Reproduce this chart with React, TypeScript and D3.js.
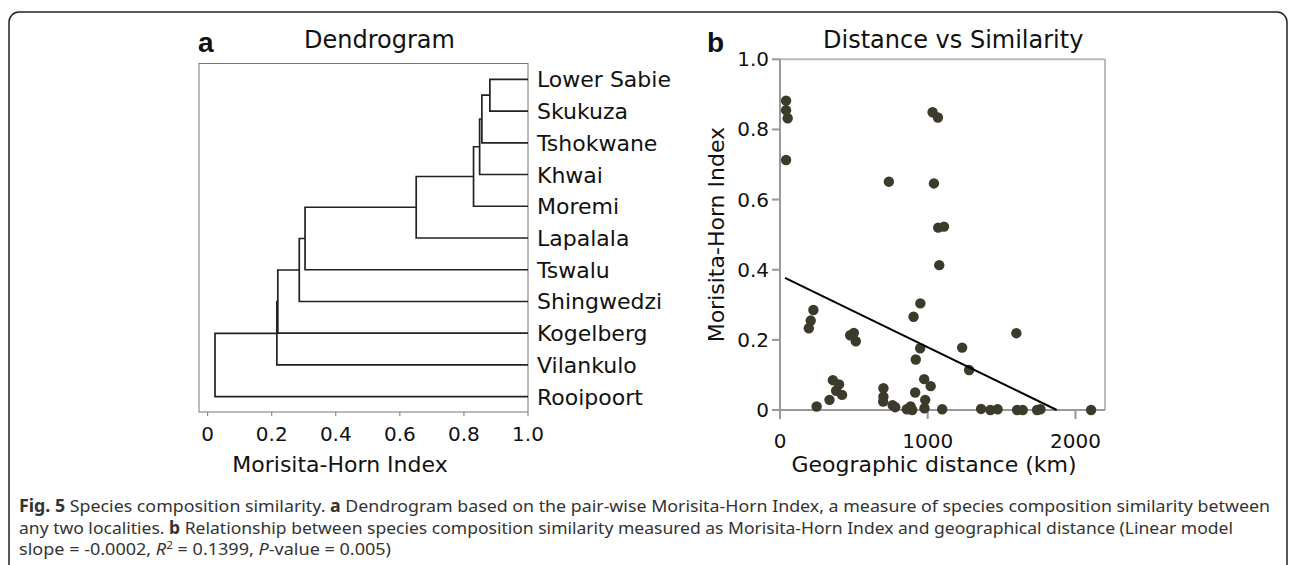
import React from "react";
import * as d3 from "d3";

// ---------- Panel a: dendrogram data ----------
const leaves = ["Lower Sabie", "Skukuza", "Tshokwane", "Khwai", "Moremi", "Lapalala", "Tswalu", "Shingwedzi", "Kogelberg", "Vilankulo", "Rooipoort"];
// merges: node ids (0..10 leaves, 11+ clusters in merge order)
const mergeLeft = [0, 11, 12, 13, 14, 15, 16, 17, 18, 19];
const mergeRight = [1, 2, 3, 4, 5, 6, 7, 8, 9, 10];
const mergeSimilarity = [0.881, 0.856, 0.849, 0.83, 0.651, 0.304, 0.286, 0.219, 0.216, 0.023];
const dendroTicks = [0, 0.2, 0.4, 0.6, 0.8, 1.0];

// ---------- Panel b: scatter data ----------
const distanceKm = [41, 41, 52, 41, 737, 1033, 1069, 1042, 1071, 1110, 1078, 226, 208, 195, 248, 335, 358, 400, 380, 420, 475, 500, 513, 700, 700, 698, 762, 780, 858, 884, 895, 904, 950, 949, 919, 915, 976, 1020, 983, 978, 1098, 1233, 1280, 1361, 1424, 1473, 1600, 1605, 1643, 1740, 1763, 2106];
const morisitaHorn = [0.882, 0.855, 0.832, 0.713, 0.651, 0.849, 0.834, 0.646, 0.52, 0.523, 0.413, 0.285, 0.255, 0.233, 0.01, 0.029, 0.085, 0.073, 0.055, 0.043, 0.213, 0.22, 0.196, 0.062, 0.038, 0.024, 0.014, 0.008, 0.002, 0.01, 0.0, 0.266, 0.304, 0.176, 0.144, 0.05, 0.088, 0.068, 0.029, 0.005, 0.002, 0.178, 0.114, 0.003, 0.0, 0.002, 0.219, 0.0, 0.0, 0.0, 0.002, 0.0];
const regIntercept = 0.384;
const regSlope = -0.000205;
const regRange = [34, 1873];
const scatterXTicks = [0, 1000, 2000];
const scatterYTicks = [0, 0.2, 0.4, 0.6, 0.8, 1.0];

// ---------- Caption ----------
type Part = { t: string; b?: boolean; i?: boolean; sup?: boolean };
const captionLines: Part[][] = [
  [
    { t: "Fig. 5", b: true },
    { t: " Species composition similarity. " },
    { t: "a", b: true },
    { t: " Dendrogram based on the pair-wise Morisita-Horn Index, a measure of species composition similarity between" },
  ],
  [
    { t: "any two localities. " },
    { t: "b", b: true },
    { t: " Relationship between species composition similarity measured as Morisita-Horn Index and geographical distance (Linear model" },
  ],
  [
    { t: "slope = -0.0002, " },
    { t: "R", i: true },
    { t: "2", sup: true },
    { t: " = 0.1399, " },
    { t: "P", i: true },
    { t: "-value = 0.005)" },
  ],
];
const captionWidths = [1251, 1214, 372];

const FONT = "DejaVu Sans, Verdana, sans-serif";
const fmt = (d: number) => (d === 0 ? "0" : d3.format(".1f")(d));

export default function App() {
  // dendrogram scales
  const dx = d3.scaleLinear().domain([-0.027, 1]).range([199, 528]);
  const dy = d3.scalePoint<string>().domain(leaves).range([79.3, 396.7]);
  const boxTop = 63.5;
  const boxBottom = 412;

  const nodes: { x: number; y: number }[] = leaves.map((l) => ({ x: 1, y: dy(l) as number }));
  const links: string[] = [];
  mergeLeft.forEach((l, k) => {
    const r = mergeRight[k];
    const a = nodes[l];
    const b = nodes[r];
    const s = mergeSimilarity[k];
    const p = d3.path();
    p.moveTo(dx(a.x), a.y);
    p.lineTo(dx(s), a.y);
    p.lineTo(dx(s), b.y);
    p.lineTo(dx(b.x), b.y);
    links.push(p.toString());
    nodes.push({ x: s, y: (a.y + b.y) / 2 });
  });

  // scatter scales
  const sx = d3.scaleLinear().domain([0, 2200]).range([780, 1105]);
  const sy = d3.scaleLinear().domain([0, 1]).range([410, 59.3]);
  const regLine = d3
    .line<number>()
    .x((d) => sx(d))
    .y((d) => sy(regIntercept + regSlope * d))(regRange);

  return (
    <svg width={1290} height={565} style={{ position: "absolute", left: 0, top: 0, background: "#fff" }}>
      {/* outer frame */}
      <rect x={9} y={12} width={1278} height={600} rx={10} fill="none" stroke="#222" strokeWidth={1.5} />

      {/* ---------- Panel a ---------- */}
      <text x={198} y={52} fontFamily="Liberation Sans, Arial, sans-serif" fontWeight="bold" fontSize={28} fill="#111">a</text>
      <text x={304} y={47.5} fontFamily={FONT} fontSize={24} fill="#111">Dendrogram</text>
      <rect x={dx(-0.027)} y={boxTop} width={dx(1) - dx(-0.027)} height={boxBottom - boxTop} fill="none" stroke="#777" strokeWidth={1} />
      {links.map((d, i) => (
        <path key={i} d={d} fill="none" stroke="#222" strokeWidth={1.7} />
      ))}
      {leaves.map((l) => (
        <text key={l} x={537} y={(dy(l) as number) + 8} fontFamily={FONT} fontSize={22} fill="#111">{l}</text>
      ))}
      {dendroTicks.map((t) => (
        <g key={t}>
          <line x1={dx(t)} x2={dx(t)} y1={boxBottom} y2={boxBottom + 4} stroke="#777" strokeWidth={1} />
          <text x={dx(t)} y={441} textAnchor="middle" fontFamily={FONT} fontSize={20} fill="#111">{fmt(t)}</text>
        </g>
      ))}
      <text x={340} y={472} textAnchor="middle" fontFamily={FONT} fontSize={22} fill="#111">Morisita-Horn Index</text>

      {/* ---------- Panel b ---------- */}
      <text x={707} y={52} fontFamily="Liberation Sans, Arial, sans-serif" fontWeight="bold" fontSize={28} fill="#111">b</text>
      <text x={823} y={47.5} fontFamily={FONT} fontSize={24} fill="#111">Distance vs Similarity</text>
      {/* top and right frame */}
      <line x1={sx(0)} x2={sx(2200)} y1={sy(1)} y2={sy(1)} stroke="#bbb" strokeWidth={2} />
      <line x1={sx(2200)} x2={sx(2200)} y1={sy(1)} y2={sy(0)} stroke="#bbb" strokeWidth={2} />
      {/* axes */}
      <line x1={sx(0)} x2={sx(2200)} y1={sy(0)} y2={sy(0)} stroke="#999" strokeWidth={2} />
      <line x1={sx(0)} x2={sx(0)} y1={sy(1)} y2={sy(0)} stroke="#999" strokeWidth={2} />
      {scatterYTicks.map((t) => (
        <g key={t}>
          <line x1={sx(0) - 8} x2={sx(0)} y1={sy(t)} y2={sy(t)} stroke="#999" strokeWidth={2} />
          <text x={769} y={sy(t) + 7} textAnchor="end" fontFamily={FONT} fontSize={20} fill="#111">{fmt(t)}</text>
        </g>
      ))}
      {scatterXTicks.map((t) => (
        <g key={t}>
          <line x1={sx(t)} x2={sx(t)} y1={sy(0)} y2={sy(0) + 9} stroke="#999" strokeWidth={2} />
          <text x={sx(t)} y={448} textAnchor="middle" fontFamily={FONT} fontSize={20} fill="#111">{t}</text>
        </g>
      ))}
      <text x={934} y={472} textAnchor="middle" fontFamily={FONT} fontSize={22} fill="#111">Geographic distance (km)</text>
      <text transform={`translate(724,${(sy(0) + sy(1)) / 2}) rotate(-90)`} textAnchor="middle" fontFamily={FONT} fontSize={22} fill="#111">Morisita-Horn Index</text>
      {distanceKm.map((d, i) => (
        <circle key={i} cx={sx(d)} cy={sy(morisitaHorn[i])} r={5.2} fill="#3c3a2a" />
      ))}
      <path d={regLine || ""} fill="none" stroke="#000" strokeWidth={2} />

      {/* ---------- Caption ---------- */}
      {captionLines.map((line, li) => (
        <text
          key={li}
          x={19}
          y={512 + li * 21.5}
          fontFamily="Noto Sans, Open Sans, sans-serif"
          fontSize={17}
          fill="#333"
          textLength={captionWidths[li]}
          lengthAdjust="spacingAndGlyphs"
          style={{ whiteSpace: "pre" }}
        >
          {line.map((p, pi) => (
            <tspan
              key={pi}
              fontWeight={p.b ? "bold" : "normal"}
              fontStyle={p.i ? "italic" : "normal"}
              fontSize={p.sup ? 11 : 17}
              dy={p.sup ? -6 : pi > 0 && line[pi - 1].sup ? 6 : 0}
            >
              {p.t}
            </tspan>
          ))}
        </text>
      ))}
    </svg>
  );
}
